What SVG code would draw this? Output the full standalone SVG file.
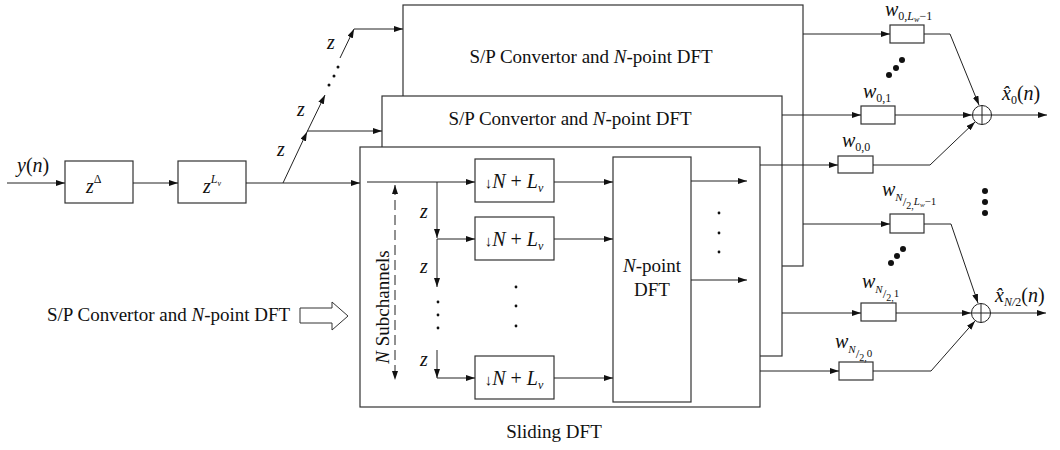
<svg xmlns="http://www.w3.org/2000/svg" width="1060" height="450" viewBox="0 0 1060 450">
<defs>
<marker id="ah" markerWidth="9" markerHeight="6" refX="9" refY="3" orient="auto-start-reverse" markerUnits="userSpaceOnUse"><path d="M0,0 L9,3 L0,6 z" fill="#111"/></marker>
</defs>
<style>
.ln{stroke:#222;stroke-width:1;fill:none}
.ar{marker-end:url(#ah)}
.bx{fill:#fff;stroke:#333;stroke-width:1.2}
.t{font-family:"Liberation Serif","DejaVu Serif",serif;fill:#111;font-size:19px}
.m{font-family:"Liberation Serif","DejaVu Serif",serif;fill:#111;font-size:20px}
.i{font-style:italic}
.dot{fill:#111}
</style>
<rect width="1060" height="450" fill="#fff"/>

<g id="sp-back">
<rect class="bx" x="403" y="5" width="400" height="261"/>
<text class="t" x="591" y="63" text-anchor="middle">S/P Convertor and <tspan class="i">N</tspan>-point DFT</text>
</g>
<g id="sp-mid">
<rect class="bx" x="382" y="96" width="400" height="260"/>
<text class="t" x="570" y="125" text-anchor="middle">S/P Convertor and <tspan class="i">N</tspan>-point DFT</text>
</g>
<g id="sliding-dft">
<rect class="bx" x="360" y="147" width="400" height="260"/>
</g>

<g id="input-label">
<text class="m" x="17" y="172"><tspan class="i">y</tspan>(<tspan class="i">n</tspan>)</text>
</g>
<g id="z-delta">
<rect class="bx" x="65" y="161" width="68" height="42"/>
<text class="m i" x="86" y="193">z<tspan font-size="12" font-style="normal" dy="-10">Δ</tspan></text>
</g>
<g id="z-Lv">
<rect class="bx" x="178" y="161" width="68" height="42"/>
<text class="m i" x="203" y="193">z<tspan font-size="12" dy="-10">L</tspan><tspan font-size="8" dy="3">v</tspan></text>
</g>

<g id="chain-labels">
<text class="m i" x="277" y="156">z</text>
<text class="m i" x="297" y="116">z</text>
<text class="m i" x="327" y="49">z</text>
<circle class="dot" cx="329" cy="85" r="1.5"/>
<circle class="dot" cx="334" cy="76" r="1.5"/>
<circle class="dot" cx="338" cy="67" r="1.5"/>
</g>

<g id="ds-1">
<rect class="bx" x="475" y="159" width="79" height="43"/>
<text class="m" x="514" y="188" text-anchor="middle"><tspan font-size="15">↓</tspan><tspan class="i">N</tspan> + <tspan class="i">L</tspan><tspan class="i" font-size="12" dy="4">v</tspan></text>
</g>
<g id="ds-2">
<rect class="bx" x="475" y="217" width="79" height="43"/>
<text class="m" x="514" y="246" text-anchor="middle"><tspan font-size="15">↓</tspan><tspan class="i">N</tspan> + <tspan class="i">L</tspan><tspan class="i" font-size="12" dy="4">v</tspan></text>
</g>
<g id="ds-3">
<rect class="bx" x="475" y="356" width="79" height="43"/>
<text class="m" x="514" y="385" text-anchor="middle"><tspan font-size="15">↓</tspan><tspan class="i">N</tspan> + <tspan class="i">L</tspan><tspan class="i" font-size="12" dy="4">v</tspan></text>
</g>
<g id="ds-dots">
<circle class="dot" cx="516" cy="287" r="1.4"/>
<circle class="dot" cx="516" cy="306" r="1.4"/>
<circle class="dot" cx="516" cy="326" r="1.4"/>
</g>

<g id="npoint-dft">
<rect class="bx" x="613" y="157" width="78" height="245"/>
<text class="t" x="652" y="272" text-anchor="middle"><tspan class="i">N</tspan>-point</text>
<text class="t" x="652" y="296" text-anchor="middle">DFT</text>
</g>
<g id="dft-dots">
<circle class="dot" cx="719" cy="213" r="1.4"/>
<circle class="dot" cx="719" cy="233" r="1.4"/>
<circle class="dot" cx="719" cy="252" r="1.4"/>
</g>

<g id="tap-labels">
<text class="m i" x="420" y="218">z</text>
<text class="m i" x="420" y="273">z</text>
<text class="m i" x="420" y="366">z</text>
<circle class="dot" cx="438" cy="302" r="1.4"/>
<circle class="dot" cx="438" cy="315" r="1.4"/>
<circle class="dot" cx="438" cy="328" r="1.4"/>
</g>

<g id="subchannels">
<line class="ln" x1="395" y1="185" x2="395" y2="380" stroke-dasharray="10,5" marker-start="url(#ah)" marker-end="url(#ah)"/>
<text class="t" transform="translate(389,307) rotate(-90)" text-anchor="middle"><tspan class="i">N</tspan> Subchannels</text>
</g>

<g id="left-legend">
<text class="t" x="47" y="321">S/P Convertor and <tspan class="i">N</tspan>-point DFT</text>
<polygon points="300,308 332,308 332,302 348,316 332,330 332,323 300,323" fill="#fff" stroke="#333" stroke-width="1"/>
</g>

<g id="sliding-label">
<text class="t" x="554" y="438" text-anchor="middle">Sliding DFT</text>
</g>

<g id="w0-Lw">
<rect class="bx" x="890" y="25" width="34" height="18"/>
<text class="m i" x="885" y="16" font-size="18">w<tspan font-size="12" font-style="normal" y="20">0,</tspan><tspan font-size="12">L</tspan><tspan font-size="8" y="22">w</tspan><tspan font-size="12" font-style="normal" y="20">−1</tspan></text>
</g>
<g id="w0-1">
<rect class="bx" x="861" y="106" width="34" height="18"/>
<text class="m i" x="863" y="98">w<tspan font-size="12" font-style="normal" y="102">0,1</tspan></text>
</g>
<g id="w0-0">
<rect class="bx" x="838" y="156" width="35" height="17"/>
<text class="m i" x="842" y="147">w<tspan font-size="12" font-style="normal" y="151">0,0</tspan></text>
</g>
<g id="wN2-Lw">
<rect class="bx" x="890" y="214" width="34" height="19"/>
<text class="m i" x="882" y="196">w<tspan font-size="11" y="201">N</tspan><tspan font-size="13" font-style="normal" y="206">/</tspan><tspan font-size="10" font-style="normal" y="209">2,</tspan><tspan font-size="11" y="205">L</tspan><tspan font-size="7" y="207">w</tspan><tspan font-size="11" font-style="normal" y="205">−1</tspan></text>
</g>
<g id="wN2-1">
<rect class="bx" x="861" y="303" width="35" height="18"/>
<text class="m i" x="862" y="288">w<tspan font-size="11" y="293">N</tspan><tspan font-size="13" font-style="normal" y="298">/</tspan><tspan font-size="10" font-style="normal" y="301">2,</tspan><tspan font-size="11" font-style="normal" y="297">1</tspan></text>
</g>
<g id="wN2-0">
<rect class="bx" x="839" y="362" width="34" height="18"/>
<text class="m i" x="835" y="348">w<tspan font-size="11" y="353">N</tspan><tspan font-size="13" font-style="normal" y="358">/</tspan><tspan font-size="10" font-style="normal" y="361">2,</tspan><tspan font-size="11" font-style="normal" y="357">0</tspan></text>
</g>
<g id="weight-dots">
<circle class="dot" cx="889" cy="75" r="3"/>
<circle class="dot" cx="896" cy="68" r="3"/>
<circle class="dot" cx="902" cy="60" r="3"/>
<circle class="dot" cx="985" cy="191" r="3"/>
<circle class="dot" cx="985" cy="202" r="3"/>
<circle class="dot" cx="985" cy="213" r="3"/>
<circle class="dot" cx="891" cy="263" r="3"/>
<circle class="dot" cx="897" cy="256" r="3"/>
<circle class="dot" cx="903" cy="249" r="3"/>
</g>

<g id="sum-0">
<circle cx="982" cy="115" r="9.5" fill="#fff" stroke="#222" stroke-width="1"/>
<path class="ln" d="M972.5,115 H991.5 M982,105.5 V124.5"/>
<text class="m" x="1002" y="100"><tspan class="i">x̂</tspan><tspan font-size="12" y="104">0</tspan><tspan y="100">(</tspan><tspan class="i">n</tspan>)</text>
</g>
<g id="sum-N2">
<circle cx="981" cy="313" r="9.5" fill="#fff" stroke="#222" stroke-width="1"/>
<path class="ln" d="M971.5,313 H990.5 M981,303.5 V322.5"/>
<text class="m" x="995" y="302"><tspan class="i">x̂</tspan><tspan class="i" font-size="12" y="306">N/</tspan><tspan font-size="12" y="306">2</tspan><tspan y="302">(</tspan><tspan class="i">n</tspan>)</text>
</g>

<g id="connectors">
<path class="ln ar" d="M7,183 H65"/>
<path class="ln ar" d="M133,183 H178"/>
<path class="ln ar" d="M246,183 H360"/>
<path class="ln ar" d="M283,183 L307,132"/>
<path class="ln ar" d="M307,131 H382"/>
<path class="ln ar" d="M307,132 L325,95"/>
<path class="ln ar" d="M340,58 L354,29"/>
<path class="ln ar" d="M354,29 H403"/>

<path class="ln ar" d="M367,182 H475"/>
<path class="ln ar" d="M437,182 V238"/>
<path class="ln ar" d="M437,239 H475"/>
<path class="ln ar" d="M437,239 V287"/>
<path class="ln ar" d="M437,350 V378"/>
<path class="ln ar" d="M437,378 H475"/>

<path class="ln ar" d="M554,182 H613"/>
<path class="ln ar" d="M554,239 H613"/>
<path class="ln ar" d="M554,378 H613"/>
<path class="ln ar" d="M691,181 H747"/>
<path class="ln ar" d="M691,280 H747"/>

<path class="ln ar" d="M803,34 H890"/>
<path class="ln ar" d="M782,115 H861"/>
<path class="ln ar" d="M760,165 H838"/>
<path class="ln ar" d="M803,224 H890"/>
<path class="ln ar" d="M782,313 H861"/>
<path class="ln ar" d="M760,371 H839"/>

<path class="ln ar" d="M924,34 H950 L979,105"/>
<path class="ln ar" d="M895,115 H972"/>
<path class="ln ar" d="M873,165 H930 L975,122"/>
<path class="ln ar" d="M991.5,115 H1047"/>
<path class="ln ar" d="M924,224 H951 L978,303"/>
<path class="ln ar" d="M896,313 H971"/>
<path class="ln ar" d="M873,371 H931 L975,321"/>
<path class="ln ar" d="M990.5,313 H1046"/>
</g>
</svg>
